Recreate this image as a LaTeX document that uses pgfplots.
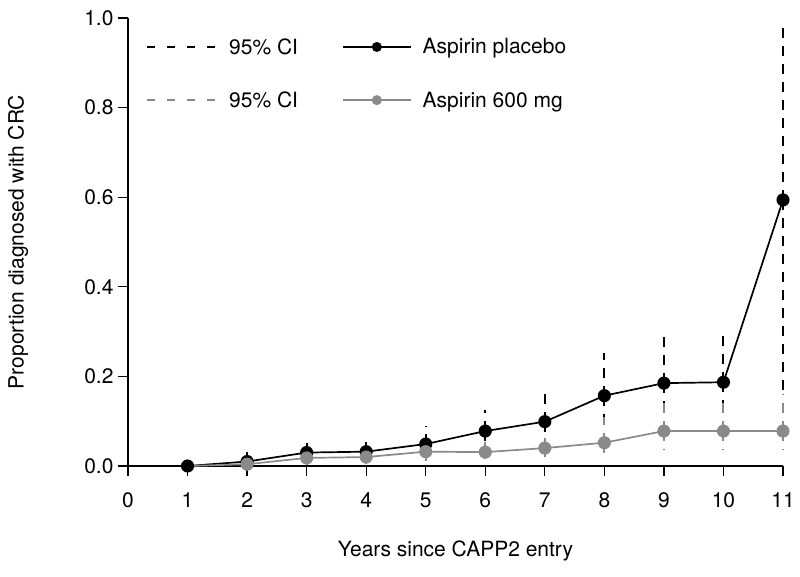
\documentclass[border=0pt]{standalone}
\usepackage{pgfplots}
\usepackage{pgfplotstable}
\pgfplotsset{compat=1.18}
\usepackage{fontspec}
\setmainfont{TeX Gyre Heros}
\definecolor{gr}{RGB}{138,138,138}

\pgfplotstableread{
x y lo hi
1 0.000 0.000 0.000
2 0.010 0.000 0.037
3 0.030 0.005 0.063
4 0.032 0.007 0.063
5 0.049 0.020 0.090
6 0.078 0.040 0.125
7 0.099 0.060 0.165
8 0.157 0.090 0.252
9 0.185 0.110 0.292
10 0.187 0.110 0.292
11 0.594 0.170 0.985
}\placebo

\pgfplotstableread{
x y lo hi
1 0.000 0.000 0.000
2 0.004 0.000 0.020
3 0.018 0.003 0.040
4 0.020 0.004 0.040
5 0.032 0.012 0.060
6 0.031 0.015 0.060
7 0.040 0.020 0.075
8 0.052 0.025 0.110
9 0.078 0.035 0.150
10 0.078 0.035 0.150
11 0.078 0.035 0.160
}\aspirin

\begin{document}
\begin{tikzpicture}
\begin{axis}[
  scale only axis, width=655pt, height=448pt,
  xmin=0, xmax=11, ymin=0, ymax=1,
  axis lines*=left, axis line style={-, line width=1.2pt},
  xtick={0,1,2,3,4,5,6,7,8,9,10,11},
  ytick={0,0.2,0.4,0.6,0.8,1},
  tick align=outside, major tick length=10pt,
  tick style={line width=1.2pt, black},
  xticklabel style={yshift=-13pt},
  yticklabel style={xshift=-1pt, /pgf/number format/.cd, fixed, fixed zerofill, precision=1},
  /pgf/number format/assume math mode=true,
  font=\fontsize{21}{25}\selectfont,
  xlabel={Years since CAPP2 entry},
  ylabel={Proportion diagnosed with CRC},
  every axis x label/.style={at={(axis description cs:0.5,-0.19)}, anchor=center},
  every axis y label/.style={at={(axis description cs:-0.168,0.5)}, anchor=center, rotate=90},
  clip=false,
  legend columns=2,
  legend cell align=left,
  legend style={draw=none, fill=none, at={(axis description cs:0.0275,0.955)}, anchor=north west,
    inner sep=0pt, column sep=11pt, row sep=36pt,
    nodes={inner sep=0pt},
    /tikz/every even column/.append style={column sep=44pt}},
]
\addlegendimage{legend image code/.code={\draw[black, line width=2pt, dash pattern=on 8pt off 12pt] (0pt,0pt) -- (70pt,0pt);}}
\addlegendentry{95\% CI}
\addlegendimage{legend image code/.code={\draw[black, line width=1.6pt] (0pt,0pt) -- (68pt,0pt); \fill[black] (34pt,0pt) circle (4.8pt);}}
\addlegendentry{Aspirin placebo}
\addlegendimage{legend image code/.code={\draw[gr, line width=2pt, dash pattern=on 8pt off 12pt] (0pt,0pt) -- (70pt,0pt);}}
\addlegendentry{95\% CI}
\addlegendimage{legend image code/.code={\draw[gr, line width=1.6pt] (0pt,0pt) -- (68pt,0pt); \fill[gr] (34pt,0pt) circle (4.8pt);}}
\addlegendentry{Aspirin 600 mg}

\coordinate (O) at (axis cs:0,0);
\draw[line width=1.2pt] (axis cs:-0.168,0) -- (axis cs:0,0);

% confidence intervals
\addplot[forget plot, only marks, mark=none, draw=none,
  error bars/.cd, y dir=both, y explicit, error mark=none,
  error bar style={black, line width=2pt, dash pattern=on 10pt off 8pt}]
  table[x=x, y=y, y error plus expr=\thisrow{hi}-\thisrow{y}, y error minus expr=\thisrow{y}-\thisrow{lo}] {\placebo};
\addplot[forget plot, only marks, mark=none, draw=none,
  error bars/.cd, y dir=both, y explicit, error mark=none,
  error bar style={gr, line width=2pt, dash pattern=on 10pt off 8pt}]
  table[x=x, y=y, y error plus expr=\thisrow{hi}-\thisrow{y}, y error minus expr=\thisrow{y}-\thisrow{lo}] {\aspirin};

% estimates
\addplot[forget plot, black, line width=1.7pt, mark=*, mark size=5.7pt, mark options={solid, fill=black}]
  table[x=x, y=y] {\placebo};
\addplot[forget plot, gr, line width=1.7pt, mark=*, mark size=5.7pt, mark phase=2, mark repeat=1, mark options={solid, fill=gr, draw=gr}]
  table[x=x, y=y] {\aspirin};
\end{axis}
\path (O) ++(-128pt,-110pt) rectangle ++(800pt,576pt);
\end{tikzpicture}
\end{document}
